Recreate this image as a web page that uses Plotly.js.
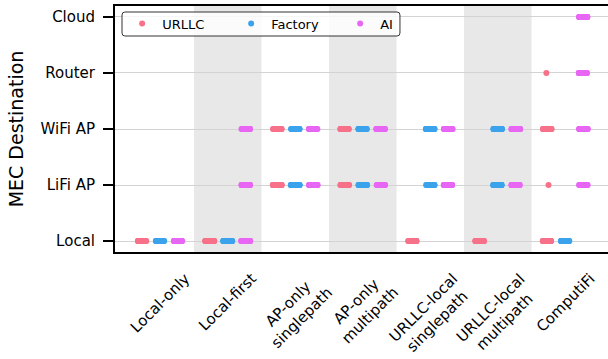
<!DOCTYPE html>
<html>
<head>
<meta charset="utf-8">
<script src="https://cdn.plot.ly/plotly-3.0.1.min.js"></script>
<style>
  html, body { margin: 0; padding: 0; background: #fff; }
  #chart { width: 608px; height: 359px; }
</style>
</head>
<body>
<div id="chart"></div>
<script>
// Offloading schemes along the x axis
const schemes = ['Local-only', 'Local-first', 'AP-only<br>singlepath', 'AP-only<br>multipath',
                 'URLLC-local<br>singlepath', 'URLLC-local<br>multipath', 'ComputiFi'];
// MEC destinations along the y axis (bottom to top)
const destinations = ['Local', 'LiFi AP', 'WiFi AP', 'Router', 'Cloud'];
// Traffic classes
const classes = ['URLLC', 'Factory', 'AI'];
const classColors = ['#f77189', '#3ba3ec', '#e866f4'];

// Tasks placed on each destination, one row per scheme:
//            [Local, LiFi AP, WiFi AP, Router, Cloud]
const urllcTasks = [
  [40, 0, 0, 0, 0],
  [40, 0, 0, 0, 0],
  [0, 40, 40, 0, 0],
  [0, 40, 40, 0, 0],
  [40, 0, 0, 0, 0],
  [40, 0, 0, 0, 0],
  [40, 1, 40, 1, 0]
];
const factoryTasks = [
  [40, 0, 0, 0, 0],
  [40, 0, 0, 0, 0],
  [0, 40, 40, 0, 0],
  [0, 40, 40, 0, 0],
  [0, 40, 40, 0, 0],
  [0, 40, 40, 0, 0],
  [40, 0, 0, 0, 0]
];
const aiTasks = [
  [40, 0, 0, 0, 0],
  [40, 40, 40, 0, 0],
  [0, 40, 40, 0, 0],
  [0, 40, 40, 0, 0],
  [0, 40, 40, 0, 0],
  [0, 40, 40, 0, 0],
  [0, 12, 40, 40, 40]
];
const taskTables = [urllcTasks, factoryTasks, aiTasks];

const FONT = 'DejaVu Sans, sans-serif';

// Expand a count table into one point per task
function expand(table) {
  const xs = [], ys = [];
  table.forEach((row, i) => {
    row.forEach((n, j) => {
      for (let k = 0; k < n; k++) { xs.push(schemes[i]); ys.push(j); }
    });
  });
  return { xs, ys };
}

const traces = [];
// Strip plot: invisible boxes that only show their jittered points, dodged by class
classes.forEach((name, c) => {
  const p = expand(taskTables[c]);
  traces.push({
    type: 'box',
    name: name,
    x: p.xs,
    y: p.ys,
    boxpoints: 'all',
    jitter: 0.5,
    pointpos: 0,
    fillcolor: 'rgba(0,0,0,0)',
    line: { color: 'rgba(0,0,0,0)', width: 0 },
    marker: { color: classColors[c], size: 6, opacity: 1, line: { width: 0 } },
    showlegend: false,
    hoverinfo: 'x+y+name'
  });
});
// Legend entries drawn as plain dots
classes.forEach((name, c) => {
  traces.push({
    type: 'scatter',
    mode: 'markers',
    name: name,
    x: [null],
    y: [null],
    marker: { color: classColors[c], size: 6 },
    showlegend: true,
    hoverinfo: 'skip'
  });
});

// Alternate shaded columns
const shapes = [];
schemes.forEach((s, i) => {
  if (i % 2 === 1) {
    shapes.push({
      type: 'rect', xref: 'x', yref: 'paper',
      x0: i - 0.5, x1: i + 0.5, y0: 0, y1: 1,
      fillcolor: '#e8e8e8', line: { width: 0 }, layer: 'below'
    });
  }
});

// Rounded frame behind the legend entries
function roundedRect(x0, y0, x1, y1, rx, ry) {
  return `M ${x0 + rx} ${y0} L ${x1 - rx} ${y0} Q ${x1} ${y0} ${x1} ${y0 + ry} ` +
         `L ${x1} ${y1 - ry} Q ${x1} ${y1} ${x1 - rx} ${y1} L ${x0 + rx} ${y1} ` +
         `Q ${x0} ${y1} ${x0} ${y1 - ry} L ${x0} ${y0 + ry} Q ${x0} ${y0} ${x0 + rx} ${y0} Z`;
}
shapes.push({
  type: 'path', xref: 'paper', yref: 'paper',
  path: roundedRect(0.0142, 0.878, 0.578, 0.9756, 0.006, 0.012),
  fillcolor: 'rgba(255,255,255,0.8)',
  line: { color: '#333', width: 1 },
  layer: 'above'
});

// Rotated, centred scheme labels under the axis
const annotations = schemes.map(s => ({
  x: s, xref: 'x', y: 0, yref: 'paper',
  text: s, showarrow: false, textangle: -45,
  xanchor: 'center', yanchor: 'top', yshift: -15,
  font: { family: FONT, size: 15, color: '#000' }
}));

const layout = {
  width: 608,
  height: 359,
  margin: { l: 115, r: 0, t: 6, b: 107 },
  paper_bgcolor: '#fff',
  plot_bgcolor: '#fff',
  font: { family: FONT, size: 15, color: '#000' },
  boxmode: 'group',
  boxgap: 0.2,
  boxgroupgap: 0,
  xaxis: {
    type: 'category',
    categoryorder: 'array',
    categoryarray: schemes,
    range: [-0.67, 6.633],
    showticklabels: false,
    ticks: '',
    showgrid: false,
    zeroline: false,
    showline: true,
    linecolor: '#000',
    linewidth: 2,
    mirror: true
  },
  yaxis: {
    range: [-0.196, 4.196],
    tickvals: destinations.map((d, i) => i),
    ticktext: destinations,
    ticks: 'outside',
    ticklen: 10,
    tickwidth: 2,
    tickcolor: '#000',
    ticklabelstandoff: 5,
    tickfont: { family: FONT, size: 15, color: '#000' },
    showgrid: true,
    gridcolor: '#d3d3d3',
    gridwidth: 1,
    zeroline: false,
    showline: true,
    linecolor: '#000',
    linewidth: 2,
    automargin: false,
    title: { text: 'MEC Destination', font: { family: FONT, size: 19, color: '#000' }, standoff: 12 }
  },
  legend: {
    orientation: 'h',
    x: 0.0145, xanchor: 'left',
    y: 0.9289, yanchor: 'middle',
    bgcolor: 'rgba(0,0,0,0)',
    borderwidth: 0,
    font: { family: FONT, size: 13, color: '#000' },
    entrywidth: 64,
    itemwidth: 30
  },
  shapes: shapes,
  annotations: annotations,
  showlegend: true
};

Plotly.newPlot('chart', traces, layout, { displayModeBar: false, staticPlot: true });
</script>
</body>
</html>
